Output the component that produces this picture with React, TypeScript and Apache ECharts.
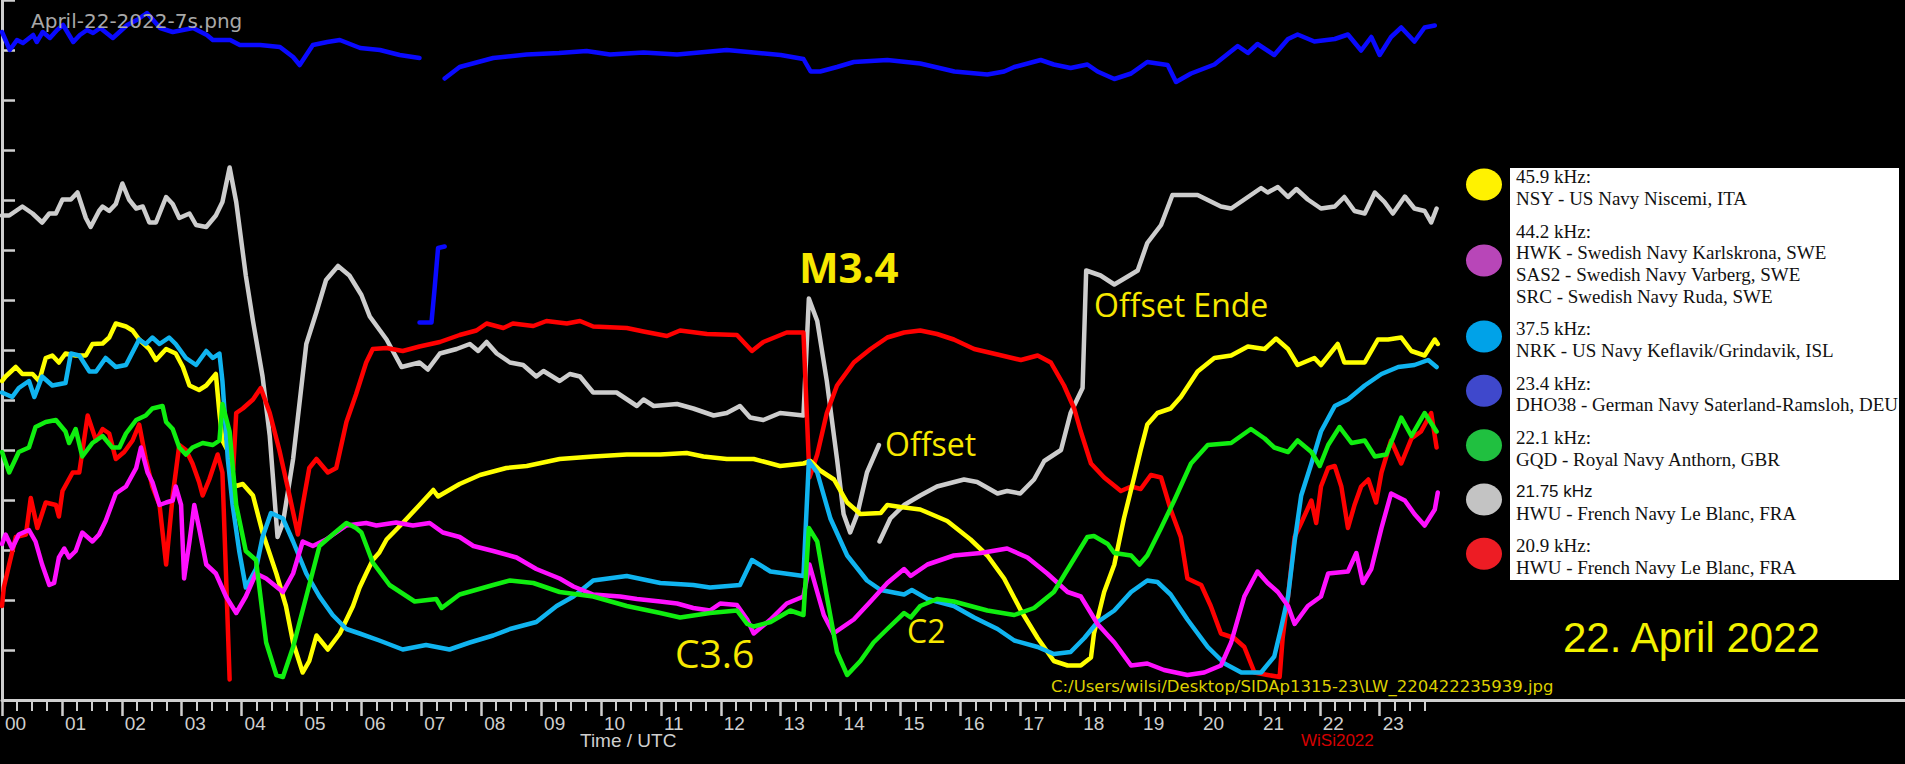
import React, { useEffect, useRef } from 'react';
import * as echarts from 'echarts';

type P = [number, number | null];

// ---- tick labels ----
const hourLabels = ['00','01','02','03','04','05','06','07','08','09','10','11','12','13','14','15','16','17','18','19','20','21','22','23'];

// ---- series (hour UTC, relative signal level in axis divisions) ----
const blueDHO38: P[] = [
  [0,13.36],[0.13,13.0],[0.25,13.2],[0.35,13.14],[0.52,13.3],[0.58,13.16],[0.68,13.36],[0.8,13.24],[0.92,13.4],[1.02,13.5],[1.19,13.16],[1.3,13.3],[1.42,13.4],[1.52,13.34],[1.64,13.44],[1.85,13.24],[2.09,13.5],[2.25,13.6],[2.42,13.74],[2.64,13.44],[2.85,13.36],[3.19,13.44],[3.42,13.3],[3.52,13.2],[3.81,13.2],[3.97,13.1],[4.31,13.1],[4.64,13.06],[4.86,12.86],[4.97,12.7],[5.19,13.1],[5.43,13.16],[5.64,13.2],[5.98,13.04],[6.31,13.0],[6.64,12.9],[6.97,12.84],[6.975,null],
  [6.97,7.55],[7.17,7.55],[7.22,8.2],[7.28,9.04],[7.39,9.07],[7.392,null],
  [7.39,12.43],[7.64,12.66],[8.2,12.84],[8.76,12.91],[9.3,12.94],[9.76,12.98],[10.15,12.91],[10.71,12.95],[11.27,12.91],[12.1,13.0],[12.55,12.95],[13.0,12.9],[13.38,12.82],[13.5,12.57],[13.66,12.57],[13.94,12.66],[14.22,12.76],[14.78,12.8],[15.33,12.73],[15.9,12.57],[16.45,12.51],[16.73,12.57],[16.9,12.66],[17.34,12.8],[17.56,12.71],[17.84,12.64],[18.12,12.71],[18.29,12.57],[18.57,12.42],[18.85,12.53],[19.12,12.76],[19.46,12.7],[19.6,12.36],[19.85,12.53],[20.24,12.71],[20.63,13.08],[20.8,12.94],[20.96,13.12],[21.24,12.9],[21.47,13.22],[21.63,13.31],[21.91,13.17],[22.25,13.22],[22.47,13.31],[22.69,12.99],[22.86,13.26],[23.0,12.9],[23.19,13.26],[23.36,13.45],[23.58,13.17],[23.75,13.45],[23.92,13.49]
];

const grayHWU2175: P[] = [
  [0,9.69],[0.12,9.69],[0.34,9.87],[0.51,9.73],[0.67,9.55],[0.79,9.73],[0.9,9.73],[1.01,10.01],[1.15,10.01],[1.26,10.15],[1.4,9.64],[1.48,9.46],[1.62,9.78],[1.68,9.87],[1.79,9.78],[1.9,9.92],[2.01,10.33],[2.12,10.01],[2.24,9.83],[2.35,9.87],[2.46,9.55],[2.57,9.55],[2.74,10.06],[2.85,9.92],[2.96,9.64],[3.13,9.73],[3.24,9.5],[3.41,9.46],[3.57,9.69],[3.68,9.96],[3.8,10.65],[3.91,9.96],[4.07,8.49],[4.19,7.58],[4.35,6.47],[4.47,5.28],[4.6,3.26],[4.69,3.54],[4.86,4.82],[5.08,7.12],[5.25,7.76],[5.41,8.4],[5.61,8.68],[5.8,8.49],[6.0,8.1],[6.14,7.67],[6.42,7.21],[6.67,6.66],[6.97,6.75],[7.11,6.61],[7.31,6.93],[7.59,7.02],[7.81,7.12],[7.95,6.98],[8.09,7.16],[8.26,6.93],[8.48,6.75],[8.7,6.7],[8.92,6.47],[9.04,6.58],[9.31,6.38],[9.48,6.52],[9.65,6.47],[9.87,6.15],[10.26,6.15],[10.6,5.88],[10.71,6.01],[10.88,5.88],[11.27,5.92],[11.54,5.83],[11.88,5.69],[12.1,5.74],[12.32,5.88],[12.49,5.65],[12.71,5.6],[12.99,5.74],[13.38,5.69],
  [13.47,8.03],[13.61,7.58],[13.77,6.38],[13.94,4.82],[14.05,3.72],[14.16,3.35],[14.28,3.72],[14.44,4.55],[14.64,5.1],[14.645,null],
  [14.65,3.17],[14.83,3.63],[15.06,3.9],[15.33,4.09],[15.61,4.27],[16.06,4.41],[16.28,4.36],[16.62,4.13],[16.78,4.18],[17.0,4.13],[17.23,4.41],[17.4,4.78],[17.68,5.0],[17.84,5.74],[18.04,6.24],[18.1,8.59],[18.34,8.49],[18.57,8.31],[18.85,8.51],[18.96,8.59],[19.12,9.14],[19.35,9.5],[19.54,10.1],[19.96,10.1],[20.35,9.87],[20.52,9.83],[20.74,10.01],[21.02,10.24],[21.13,10.15],[21.3,10.26],[21.47,10.06],[21.61,10.22],[21.8,10.01],[22.02,9.83],[22.25,9.87],[22.41,10.06],[22.58,9.78],[22.75,9.73],[22.92,10.15],[23.08,9.96],[23.22,9.73],[23.42,10.07],[23.58,9.83],[23.75,9.78],[23.86,9.55],[23.95,9.83]
];

const yellowNSY: P[] = [
  [0,6.38],[0.06,6.47],[0.23,6.66],[0.34,6.52],[0.51,6.52],[0.62,6.38],[0.73,6.84],[0.84,6.89],[0.95,6.75],[1.06,6.93],[1.23,6.89],[1.4,6.89],[1.51,7.12],[1.68,7.13],[1.79,7.25],[1.9,7.53],[2.07,7.47],[2.18,7.39],[2.29,7.21],[2.46,7.02],[2.57,6.8],[2.74,7.02],[2.9,6.93],[3.02,6.66],[3.13,6.29],[3.29,6.2],[3.41,6.29],[3.57,6.52],[3.63,5.74],[3.68,5.19],[3.8,4.91],[3.88,4.27],[4.02,4.32],[4.19,4.09],[4.35,3.35],[4.58,2.53],[4.74,1.88],[4.86,1.15],[5.02,0.55],[5.13,0.78],[5.25,1.29],[5.44,1.01],[5.64,1.33],[5.86,1.88],[5.97,2.25],[6.08,2.53],[6.19,2.8],[6.3,2.95],[6.42,3.21],[6.69,3.54],[6.97,3.9],[7.2,4.2],[7.28,4.07],[7.64,4.32],[7.98,4.5],[8.42,4.64],[8.76,4.68],[9.31,4.82],[9.87,4.87],[10.43,4.91],[10.99,4.91],[11.43,4.94],[11.71,4.87],[12.1,4.82],[12.55,4.82],[12.99,4.68],[13.38,4.73],[13.5,4.78],[13.66,4.59],[13.89,4.41],[14.11,3.95],[14.33,3.72],[14.67,3.74],[14.78,3.9],[15.0,3.86],[15.33,3.81],[15.78,3.58],[16.17,3.21],[16.45,2.89],[16.73,2.43],[17.01,1.79],[17.29,1.24],[17.56,0.78],[17.79,0.69],[18.01,0.69],[18.18,0.85],[18.23,1.33],[18.4,2.16],[18.57,2.71],[18.73,3.63],[18.9,4.45],[19.01,5.0],[19.12,5.51],[19.29,5.74],[19.51,5.83],[19.68,6.06],[19.96,6.57],[20.24,6.84],[20.52,6.89],[20.8,7.07],[21.08,7.02],[21.27,7.23],[21.47,7.02],[21.63,6.7],[21.91,6.84],[22.02,6.7],[22.3,7.12],[22.41,6.75],[22.75,6.75],[22.97,7.21],[23.14,7.21],[23.36,7.25],[23.53,6.98],[23.75,6.89],[23.92,7.21],[23.97,7.12]
];

const cyanNRK: P[] = [
  [0,6.15],[0.17,6.06],[0.28,6.24],[0.45,6.38],[0.54,6.06],[0.67,6.47],[0.84,6.29],[1.06,6.34],[1.15,6.93],[1.29,6.89],[1.46,6.57],[1.57,6.57],[1.73,6.84],[1.9,6.66],[2.07,6.7],[2.29,7.21],[2.4,7.12],[2.51,7.25],[2.63,7.12],[2.79,7.25],[2.9,7.12],[3.07,6.84],[3.24,6.7],[3.41,6.98],[3.52,6.84],[3.63,6.93],[3.68,6.38],[3.77,4.82],[3.85,3.9],[3.96,2.98],[4.07,2.25],[4.24,2.62],[4.35,3.26],[4.49,3.74],[4.69,3.63],[4.86,3.17],[5.08,2.53],[5.3,2.07],[5.52,1.7],[5.75,1.42],[5.97,1.33],[6.3,1.19],[6.69,1.01],[7.08,1.1],[7.47,1.01],[7.81,1.15],[8.2,1.29],[8.48,1.42],[8.92,1.56],[9.26,1.88],[9.54,2.07],[9.87,2.39],[10.43,2.48],[10.99,2.34],[11.54,2.3],[11.82,2.25],[12.32,2.3],[12.52,2.8],[12.83,2.57],[13.38,2.48],[13.47,4.78],[13.61,4.55],[13.83,3.63],[14.11,2.89],[14.44,2.39],[14.67,2.2],[15.06,2.11],[15.19,2.2],[15.45,2.02],[15.89,1.88],[16.23,1.65],[16.62,1.42],[16.9,1.19],[17.29,1.06],[17.56,0.92],[17.84,0.96],[18.07,1.24],[18.29,1.56],[18.57,1.79],[18.85,2.16],[19.12,2.39],[19.29,2.36],[19.51,2.11],[19.79,1.61],[20.13,1.06],[20.41,0.73],[20.69,0.55],[21.02,0.55],[21.24,0.87],[21.35,1.42],[21.47,2.07],[21.58,3.17],[21.69,4.09],[21.86,4.73],[22.02,5.37],[22.25,5.88],[22.47,6.01],[22.75,6.29],[23.03,6.52],[23.31,6.66],[23.58,6.7],[23.81,6.8],[23.95,6.66]
];

const greenGQD: P[] = [
  [0,4.96],[0.12,4.55],[0.28,4.96],[0.45,5.05],[0.56,5.46],[0.73,5.56],[0.9,5.6],[1.06,5.37],[1.12,5.14],[1.23,5.42],[1.34,4.87],[1.51,5.14],[1.68,5.28],[1.84,5.05],[1.96,5.05],[2.07,5.33],[2.24,5.6],[2.4,5.69],[2.51,5.83],[2.68,5.88],[2.74,5.56],[2.85,5.42],[2.96,5.05],[3.07,4.91],[3.18,5.05],[3.35,5.14],[3.52,5.1],[3.63,5.19],[3.68,5.92],[3.8,5.37],[3.91,3.9],[4.07,2.98],[4.24,2.8],[4.41,1.15],[4.58,0.5],[4.69,0.46],[4.86,1.06],[5.08,2.07],[5.3,3.08],[5.52,3.31],[5.75,3.54],[5.91,3.44],[6.0,3.35],[6.19,2.75],[6.47,2.3],[6.89,1.97],[7.25,2.02],[7.34,1.84],[7.64,2.11],[8.2,2.3],[8.48,2.39],[8.87,2.34],[9.31,2.16],[9.87,2.07],[10.43,1.88],[10.99,1.74],[11.32,1.65],[11.82,1.74],[12.27,1.79],[12.44,1.52],[12.55,1.47],[12.83,1.56],[13.16,1.79],[13.38,1.7],[13.47,3.44],[13.61,3.17],[13.77,2.07],[13.94,0.96],[14.11,0.5],[14.33,0.78],[14.55,1.15],[14.78,1.42],[15.06,1.74],[15.17,1.65],[15.33,1.88],[15.61,2.02],[15.89,1.97],[16.45,1.79],[16.9,1.7],[17.23,1.84],[17.56,2.16],[17.84,2.71],[18.12,3.26],[18.23,3.28],[18.46,3.12],[18.57,2.94],[18.85,2.89],[18.99,2.71],[19.12,2.89],[19.35,3.44],[19.57,3.99],[19.85,4.73],[20.13,5.1],[20.52,5.14],[20.85,5.42],[21.08,5.23],[21.24,5.05],[21.47,4.96],[21.63,5.19],[21.86,4.96],[22.0,4.68],[22.14,5.1],[22.33,5.46],[22.53,5.14],[22.75,5.19],[22.92,4.87],[23.11,4.91],[23.36,5.65],[23.53,5.28],[23.75,5.74],[23.95,5.37]
];

const magentaHWK: P[] = [
  [0,3.12],[0.06,3.31],[0.17,3.03],[0.28,3.31],[0.45,3.4],[0.56,3.17],[0.67,2.71],[0.79,2.3],[0.87,2.34],[0.95,2.85],[1.04,3.03],[1.12,2.85],[1.23,2.98],[1.34,3.35],[1.51,3.17],[1.62,3.31],[1.73,3.58],[1.9,4.13],[2.07,4.27],[2.24,4.64],[2.32,5.05],[2.43,4.55],[2.51,4.36],[2.63,3.9],[2.74,3.95],[2.85,3.99],[2.9,4.27],[2.99,3.9],[3.04,2.43],[3.13,3.17],[3.21,3.9],[3.29,3.44],[3.41,2.71],[3.57,2.53],[3.74,2.07],[3.91,1.74],[4.07,2.07],[4.24,2.53],[4.41,2.43],[4.69,2.16],[4.86,2.53],[5.02,3.17],[5.19,3.08],[5.41,3.21],[5.75,3.49],[6.08,3.54],[6.25,3.49],[6.58,3.55],[6.86,3.49],[7.14,3.54],[7.36,3.35],[7.64,3.26],[7.87,3.08],[8.2,2.98],[8.59,2.85],[8.92,2.62],[9.31,2.43],[9.54,2.27],[9.87,2.11],[10.32,2.07],[10.6,2.02],[10.99,1.97],[11.27,1.93],[11.54,1.84],[11.82,1.79],[11.99,1.93],[12.27,1.9],[12.44,1.61],[12.55,1.33],[12.83,1.61],[13.1,1.93],[13.38,2.07],[13.48,2.71],[13.61,2.16],[13.72,1.7],[13.88,1.33],[14.22,1.61],[14.5,1.97],[14.78,2.34],[15.06,2.62],[15.17,2.48],[15.45,2.71],[15.89,2.89],[16.34,2.94],[16.78,3.03],[17.12,2.85],[17.45,2.53],[17.79,2.16],[18.01,2.07],[18.29,1.52],[18.57,1.15],[18.85,0.69],[19.12,0.73],[19.4,0.6],[19.79,0.5],[20.07,0.55],[20.35,0.69],[20.52,1.15],[20.74,2.07],[20.96,2.57],[21.13,2.34],[21.3,2.16],[21.47,1.88],[21.58,1.52],[21.8,1.88],[22.02,2.07],[22.14,2.53],[22.47,2.57],[22.61,2.94],[22.72,2.34],[22.86,2.62],[23.03,3.44],[23.19,4.13],[23.42,3.99],[23.58,3.72],[23.75,3.49],[23.92,3.81],[23.97,4.15]
];

const redHWU209: P[] = [
  [0,1.88],[0.03,2.25],[0.12,2.71],[0.23,3.26],[0.4,3.31],[0.48,4.04],[0.59,3.44],[0.73,3.95],[0.9,3.9],[0.95,3.67],[1.01,4.18],[1.18,4.55],[1.29,4.55],[1.43,5.69],[1.57,5.19],[1.68,5.42],[1.79,5.33],[1.9,4.82],[2.04,4.96],[2.18,5.19],[2.29,5.51],[2.4,4.82],[2.51,4.27],[2.63,3.9],[2.74,2.71],[2.85,4.09],[2.96,5.1],[3.07,5.0],[3.18,4.73],[3.29,4.36],[3.35,4.09],[3.46,4.41],[3.6,4.91],[3.68,4.55],[3.74,2.5],[3.8,0.41],[3.81,null],
  [3.86,4.6],[3.91,5.74],[4.02,5.83],[4.19,6.01],[4.32,6.24],[4.47,5.74],[4.63,5.0],[4.8,4.09],[4.94,3.31],[5.02,3.9],[5.13,4.64],[5.25,4.82],[5.44,4.55],[5.58,4.64],[5.75,5.56],[5.91,6.11],[6.08,6.75],[6.19,7.02],[6.42,7.04],[6.69,6.98],[6.97,7.07],[7.31,7.16],[7.64,7.3],[7.92,7.39],[8.09,7.53],[8.37,7.44],[8.53,7.53],[8.87,7.48],[9.09,7.58],[9.43,7.53],[9.65,7.58],[9.87,7.47],[10.43,7.44],[10.71,7.37],[11.1,7.28],[11.32,7.39],[11.77,7.32],[12.27,7.3],[12.52,6.98],[12.71,7.16],[13.1,7.35],[13.38,7.35],[13.48,4.45],[13.61,4.91],[13.77,5.74],[13.94,6.29],[14.22,6.75],[14.5,7.02],[14.78,7.25],[15.06,7.35],[15.33,7.39],[15.61,7.32],[15.89,7.21],[16.23,7.02],[16.62,6.91],[17.01,6.8],[17.29,6.89],[17.51,6.75],[17.73,6.29],[17.9,5.83],[18.01,5.37],[18.18,4.73],[18.4,4.45],[18.68,4.18],[18.85,4.27],[19.01,4.22],[19.18,4.5],[19.35,4.45],[19.51,3.81],[19.68,3.26],[19.79,2.43],[20.02,2.3],[20.18,1.88],[20.35,1.33],[20.57,1.24],[20.74,1.06],[20.91,0.55],[21.13,0.5],[21.33,0.46],[21.38,1.24],[21.47,2.07],[21.58,3.26],[21.69,3.54],[21.86,3.99],[21.94,3.54],[22.02,4.27],[22.14,4.64],[22.25,4.68],[22.36,4.27],[22.47,3.44],[22.58,3.9],[22.69,4.27],[22.81,4.41],[22.94,3.95],[23.03,4.55],[23.19,5.19],[23.36,4.73],[23.53,5.23],[23.69,5.37],[23.86,5.74],[23.95,5.05]
];

// ---- legend ----
const legendFreqs = ['45.9 kHz:', '44.2 kHz:', '37.5 kHz:', '23.4 kHz:', '22.1 kHz:', '21.75 kHz', '20.9 kHz:'];
const legendStations = [
  ['NSY - US Navy Niscemi, ITA'],
  ['HWK - Swedish Navy Karlskrona, SWE', 'SAS2 - Swedish Navy Varberg, SWE', 'SRC - Swedish Navy Ruda, SWE'],
  ['NRK - US Navy Keflavik/Grindavik, ISL'],
  ['DHO38 - German Navy Saterland-Ramsloh, DEU'],
  ['GQD - Royal Navy Anthorn, GBR'],
  ['HWU - French Navy Le Blanc, FRA'],
  ['HWU - French Navy Le Blanc, FRA'],
];
const legendBlobColors = ['#fff200', '#b846b8', '#00a2e8', '#3f48cc', '#20c040', '#c3c3c3', '#ed1c24'];

// ---- annotations ----
const annotations = [
  { text: 'M3.4', x: 799, y: 266, size: 42, weight: 'bold' },
  { text: 'Offset', x: 885, y: 443, size: 32, weight: 'normal' },
  { text: 'Offset Ende', x: 1094, y: 304, size: 32, weight: 'normal' },
  { text: 'C3.6', x: 675, y: 652, size: 39, weight: 'normal' },
  { text: 'C2', x: 907, y: 630, size: 32, weight: 'normal' },
];

const seriesDefs = [
  { name: '23.4 kHz DHO38', data: blueDHO38, color: '#0a0aff' },
  { name: '21.75 kHz HWU', data: grayHWU2175, color: '#cdcdcd' },
  { name: '20.9 kHz HWU', data: redHWU209, color: '#ff0000' },
  { name: '45.9 kHz NSY', data: yellowNSY, color: '#ffff00' },
  { name: '37.5 kHz NRK', data: cyanNRK, color: '#10b4f0' },
  { name: '44.2 kHz HWK', data: magentaHWK, color: '#ff10ff' },
  { name: '22.1 kHz GQD', data: greenGQD, color: '#10ee10' },
];

const AXIS_COLOR = '#cfcfcf';
const X_MAX = 31.77;

export default function App() {
  const ref = useRef<HTMLDivElement>(null);

  useEffect(() => {
    document.body.style.margin = '0';
    document.body.style.background = '#000';
    if (!ref.current) return;
    const chart = echarts.init(ref.current, undefined, { renderer: 'svg' });

    const hourVals = hourLabels.map((_, i) => i);
    const quarterVals: number[] = [];
    hourVals.forEach((h) => { quarterVals.push(h + 0.25, h + 0.5, h + 0.75); });

    const graphics: any[] = [];
    // title
    graphics.push({
      type: 'text', left: 31, top: 11, z: 10,
      style: { text: 'April-22-2022-7s.png', fill: '#a8a8a8', fontSize: 20, fontFamily: 'DejaVu Sans' },
    });
    // legend box
    graphics.push({ type: 'rect', shape: { x: 1510, y: 168, width: 389, height: 412 }, style: { fill: '#ffffff' }, z: 10 });
    let y = 176.7;
    const lh = 21.7;
    legendFreqs.forEach((f, i) => {
      const lines = [f, ...legendStations[i]];
      const yStart = y;
      lines.forEach((t, j) => {
        const isSans = j === 0 && !f.endsWith(':');
        graphics.push({
          type: 'text', z: 11,
          style: {
            text: t, x: 1516, y: y + j * lh, fill: '#111111',
            fontSize: isSans ? 17 : 19, fontFamily: isSans ? 'Liberation Sans' : 'Liberation Serif',
            align: 'left', verticalAlign: 'middle', textAlign: 'left', textVerticalAlign: 'middle',
          },
        });
      });
      const yEnd = y + (lines.length - 1) * lh;
      graphics.push({
        type: 'ellipse', z: 11,
        shape: { cx: 1484, cy: (yStart + yEnd) / 2 - 3, rx: 18, ry: 16 },
        style: { fill: legendBlobColors[i] },
      });
      y += lines.length * lh + 10.9;
    });
    // annotations
    annotations.forEach((a) => {
      graphics.push({
        type: 'text', z: 12,
        style: {
          text: a.text, x: a.x, y: a.y, fill: '#f7e800', fontSize: a.size, fontWeight: a.weight,
          fontFamily: 'Open Sans', align: 'left', verticalAlign: 'middle', textAlign: 'left', textVerticalAlign: 'middle',
        },
      });
    });
    // footer texts
    graphics.push({
      type: 'text', z: 12,
      style: { text: '22. April 2022', x: 1563, y: 637, fill: '#f2f200', fontSize: 42, fontFamily: 'Liberation Sans',
        align: 'left', verticalAlign: 'middle', textAlign: 'left', textVerticalAlign: 'middle' },
    });
    graphics.push({
      type: 'text', z: 12,
      style: { text: 'C:/Users/wilsi/Desktop/SIDAp1315-23\\LW_220422235939.jpg', x: 1051, y: 686, fill: '#dccf00', fontSize: 16.5, fontFamily: 'DejaVu Sans',
        align: 'left', verticalAlign: 'middle', textAlign: 'left', textVerticalAlign: 'middle' },
    });
    graphics.push({
      type: 'text', z: 12,
      style: { text: 'WiSi2022', x: 1301, y: 740, fill: '#d40000', fontSize: 17, fontFamily: 'Liberation Sans',
        align: 'left', verticalAlign: 'middle', textAlign: 'left', textVerticalAlign: 'middle' },
    });
    graphics.push({
      type: 'text', z: 12,
      style: { text: 'Time / UTC', x: 580, y: 740, fill: AXIS_COLOR, fontSize: 19, fontFamily: 'Liberation Sans',
        align: 'left', verticalAlign: 'middle', textAlign: 'left', textVerticalAlign: 'middle' },
    });

    const option: any = {
      animation: false,
      backgroundColor: '#000000',
      grid: { left: 2, right: 0, top: 0, bottom: 64, containLabel: false },
      xAxis: [
        {
          type: 'value', min: 0, max: X_MAX, interval: 1, position: 'bottom',
          axisLine: { show: true, onZero: false, lineStyle: { color: AXIS_COLOR, width: 3 } },
          axisTick: { show: true, customValues: hourVals, length: 16, lineStyle: { color: AXIS_COLOR, width: 2.5 } },
          axisLabel: {
            show: true, customValues: hourVals, color: AXIS_COLOR, fontSize: 19, fontFamily: 'Liberation Sans',
            margin: 14, align: 'left', padding: [0, 0, 0, 3],
            formatter: (v: number) => (v <= 23 ? hourLabels[Math.round(v)] : ''),
          },
          splitLine: { show: false },
        },
        {
          type: 'value', min: 0, max: X_MAX, interval: 0.25, position: 'bottom', offset: 0,
          axisLine: { show: false },
          axisTick: { show: true, customValues: quarterVals, length: 11, lineStyle: { color: AXIS_COLOR, width: 2 } },
          axisLabel: { show: false },
          splitLine: { show: false },
        },
      ],
      yAxis: {
        type: 'value', min: 0, max: 14, interval: 1,
        axisLine: { show: true, onZero: false, lineStyle: { color: AXIS_COLOR, width: 3 } },
        axisTick: { show: true, inside: true, length: 13, lineStyle: { color: AXIS_COLOR, width: 2.5 } },
        axisLabel: { show: false },
        splitLine: { show: false },
      },
      series: seriesDefs.map((s) => ({
        name: s.name, type: 'line', xAxisIndex: 0, yAxisIndex: 0,
        data: s.data, showSymbol: false, symbol: 'none', connectNulls: false,
        lineStyle: { color: s.color, width: 4.5, join: 'round', cap: 'round' }, itemStyle: { color: s.color },
      })),
      graphic: graphics,
    };
    chart.setOption(option);
    return () => chart.dispose();
  }, []);

  return <div ref={ref} style={{ width: 1905, height: 764, background: '#000' }} />;
}
